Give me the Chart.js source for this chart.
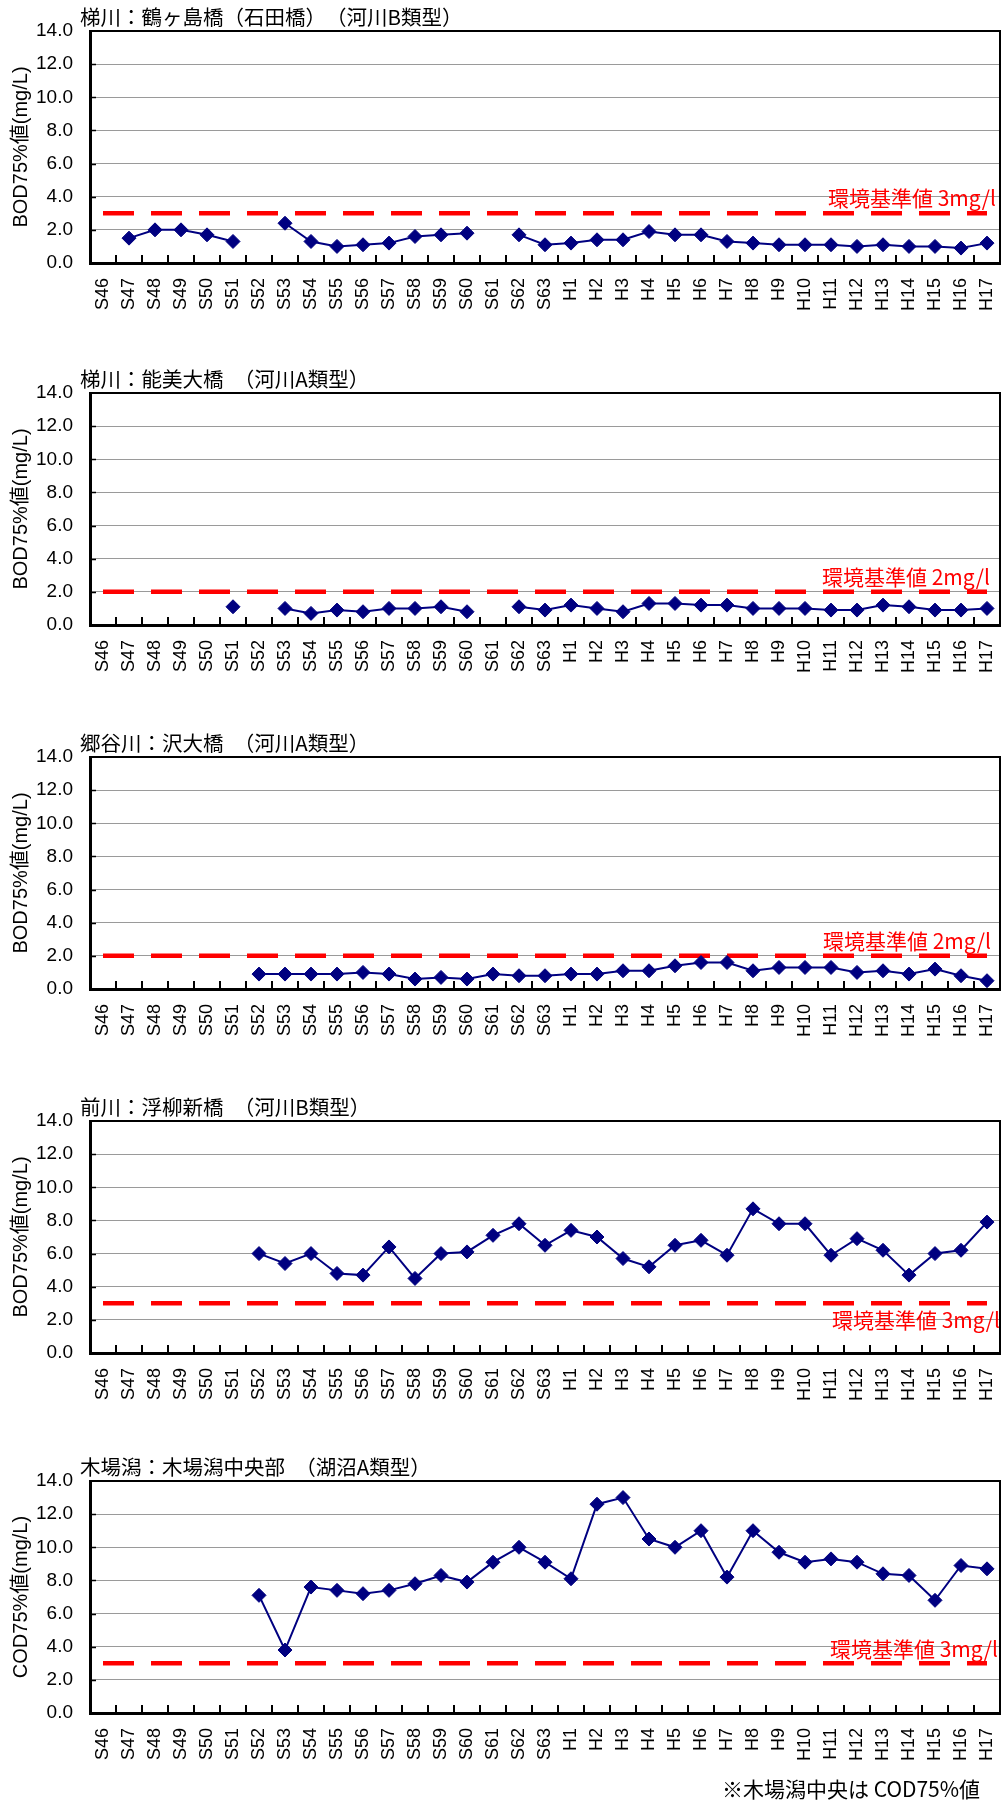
<!DOCTYPE html>
<html lang="ja">
<head>
<meta charset="utf-8">
<title>BOD・COD 75%値の経年変化</title>
<script src="https://cdn.jsdelivr.net/npm/chart.js@4.4.0/dist/chart.umd.min.js"></script>
<style>
  body { margin: 0; background: #fff; }
  #wrap { position: relative; width: 1008px; height: 1800px; }
  #wrap canvas { position: absolute; left: 0; }
  .note { position: absolute; left: 722px; top: 1773px; font: 21px "Noto Sans CJK JP"; color: #000; }
</style>
</head>
<body>
<div id="wrap">
  <canvas id="c1" width="1008" height="360" style="top:0px"></canvas>
  <canvas id="c2" width="1008" height="360" style="top:362px"></canvas>
  <canvas id="c3" width="1008" height="360" style="top:726px"></canvas>
  <canvas id="c4" width="1008" height="360" style="top:1090px"></canvas>
  <canvas id="c5" width="1008" height="350" style="top:1450px"></canvas>
  <div class="note">※木場潟中央は COD75%値</div>
</div>
<script>
// 年度 (S46 ～ H17)
const years = [
  'S46','S47','S48','S49','S50','S51','S52','S53','S54','S55','S56','S57','S58','S59','S60','S61','S62','S63',
  'H1','H2','H3','H4','H5','H6','H7','H8','H9','H10','H11','H12','H13','H14','H15','H16','H17'
];

// 梯川:鶴ヶ島橋(石田橋)  BOD75%値
const tsurugashima = [null,1.5,2.0,2.0,1.7,1.3,null,2.4,1.3,1.0,1.1,1.2,1.6,1.7,1.8,null,1.7,1.1,
  1.2,1.4,1.4,1.9,1.7,1.7,1.3,1.2,1.1,1.1,1.1,1.0,1.1,1.0,1.0,0.9,1.2];
// 梯川:能美大橋
const nomiOhashi = [null,null,null,null,null,1.1,null,1.0,0.7,0.9,0.8,1.0,1.0,1.1,0.8,null,1.1,0.9,
  1.2,1.0,0.8,1.3,1.3,1.2,1.2,1.0,1.0,1.0,0.9,0.9,1.2,1.1,0.9,0.9,1.0];
// 郷谷川:沢大橋
const sawaOhashi = [null,null,null,null,null,null,0.9,0.9,0.9,0.9,1.0,0.9,0.6,0.7,0.6,0.9,0.8,0.8,
  0.9,0.9,1.1,1.1,1.4,1.6,1.6,1.1,1.3,1.3,1.3,1.0,1.1,0.9,1.2,0.8,0.5];
// 前川:浮柳新橋
const ukiyanagi = [null,null,null,null,null,null,6.0,5.4,6.0,4.8,4.7,6.4,4.5,6.0,6.1,7.1,7.8,6.5,
  7.4,7.0,5.7,5.2,6.5,6.8,5.9,8.7,7.8,7.8,5.9,6.9,6.2,4.7,6.0,6.2,7.9];
// 木場潟:木場潟中央部  COD75%値
const kibagata = [null,null,null,null,null,null,7.1,3.8,7.6,7.4,7.2,7.4,7.8,8.3,7.9,9.1,10.0,9.1,
  8.1,12.6,13.0,10.5,10.0,11.0,8.2,11.0,9.7,9.1,9.3,9.1,8.4,8.3,6.8,8.9,8.7];

// 環境基準値 (mg/l)
const standards = [3, 2, 2, 3, 3];
const yMin = 0, yMax = 14, yStep = 2;

const panels = [
  { id: 'c1', title: '梯川：鶴ヶ島橋（石田橋）　（河川B類型）', yTitle: 'BOD75%値(mg/L)', values: tsurugashima, std: standards[0], labelX: 828, labelDy: -15 },
  { id: 'c2', title: '梯川：能美大橋　（河川A類型）', yTitle: 'BOD75%値(mg/L)', values: nomiOhashi, std: standards[1], labelX: 822, labelDy: -15 },
  { id: 'c3', title: '郷谷川：沢大橋　（河川A類型）', yTitle: 'BOD75%値(mg/L)', values: sawaOhashi, std: standards[2], labelX: 823, labelDy: -15 },
  { id: 'c4', title: '前川：浮柳新橋　（河川B類型）', yTitle: 'BOD75%値(mg/L)', values: ukiyanagi, std: standards[3], labelX: 832, labelDy: 17 },
  { id: 'c5', title: '木場潟：木場潟中央部　（湖沼A類型）', yTitle: 'COD75%値(mg/L)', values: kibagata, std: standards[4], labelX: 830, labelDy: -14 },
];

const NUM_FONT = '"Liberation Sans", Arial, "Noto Sans CJK JP", sans-serif';
const JP_FONT = '"Noto Sans CJK JP", sans-serif';

// 枠線・内向きの目盛り・タイトル・基準値ラベル
const excelLook = {
  id: 'excelLook',
  afterDatasetsDraw(chart, args, opts) {
    const { ctx, chartArea: a, scales: { x, y } } = chart;
    ctx.save();
    ctx.strokeStyle = '#000';
    ctx.lineWidth = 2;
    ctx.beginPath();
    ctx.moveTo(a.left, a.top);
    ctx.lineTo(a.right, a.top);
    ctx.lineTo(a.right, a.bottom);
    ctx.stroke();

    // x 目盛り（区切り位置、上向き）
    ctx.beginPath();
    for (let i = 0; i < years.length - 1; i++) {
      const px = Math.round((x.getPixelForValue(i) + x.getPixelForValue(i + 1)) / 2);
      ctx.moveTo(px, a.bottom);
      ctx.lineTo(px, a.bottom - 8);
    }
    ctx.stroke();
    // y 目盛り（右向き）
    ctx.lineWidth = 1.5;
    ctx.beginPath();
    for (let v = yMin + yStep; v < yMax; v += yStep) {
      const py = Math.round(y.getPixelForValue(v)) + 0.5;
      ctx.moveTo(a.left, py);
      ctx.lineTo(a.left + 6, py);
    }
    ctx.stroke();

    // 基準値ラベル（プロット領域でクリップ）
    ctx.save();
    ctx.beginPath();
    ctx.rect(a.left, a.top, a.right - a.left, a.bottom - a.top);
    ctx.clip();
    ctx.fillStyle = '#ff0000';
    ctx.font = '21px ' + JP_FONT;
    ctx.textBaseline = 'middle';
    ctx.textAlign = 'left';
    ctx.fillText(opts.label, opts.labelX, y.getPixelForValue(opts.std) + opts.labelDy);
    ctx.restore();

    // タイトル
    ctx.fillStyle = '#000';
    ctx.font = '20.5px ' + JP_FONT;
    ctx.textBaseline = 'middle';
    ctx.textAlign = 'left';
    ctx.fillText(opts.title, 80, 17);
    ctx.restore();
  }
};

panels.forEach(p => {
  const canvas = document.getElementById(p.id);
  const xHeight = canvas.height - 31 - 232;
  new Chart(canvas, {
    type: 'line',
    data: {
      labels: years,
      datasets: [
        {
          data: p.values,
          borderColor: '#000080',
          backgroundColor: '#000080',
          borderWidth: 2,
          pointStyle: 'rectRot',
          pointRadius: 7,
          pointBorderWidth: 1,
          spanGaps: false,
          tension: 0
        },
        {
          // 環境基準値の破線（S46 から H17 まで）
          data: [{ x: years[0], y: p.std }, { x: years[years.length - 1], y: p.std }],
          borderColor: '#ff0000',
          borderWidth: 4.5,
          borderDash: [31, 17],
          borderCapStyle: 'butt',
          pointRadius: 0,
          fill: false
        }
      ]
    },
    options: {
      responsive: false,
      animation: false,
      layout: { padding: { top: 31, right: 4, left: 0, bottom: 0 } },
      plugins: {
        legend: { display: false },
        tooltip: { enabled: false },
        excelLook: {
          title: p.title,
          label: '環境基準値 ' + p.std + 'mg/l',
          std: p.std,
          labelX: p.labelX,
          labelDy: p.labelDy
        }
      },
      scales: {
        x: {
          type: 'category',
          offset: true,
          grid: { display: false, drawTicks: false },
          border: { display: true, color: '#000', width: 3 },
          ticks: {
            autoSkip: false,
            minRotation: 90,
            maxRotation: 90,
            padding: 15,
            color: '#000',
            font: { family: NUM_FONT, size: 18 }
          },
          afterFit: s => {
            s.height = xHeight;
            s.paddingLeft = 0;
            s.paddingRight = 0;
          }
        },
        y: {
          min: yMin,
          max: yMax,
          grid: { color: '#9a9a9a', lineWidth: 1, drawTicks: false },
          border: { display: true, color: '#000', width: 3 },
          ticks: {
            stepSize: yStep,
            padding: 17,
            color: '#000',
            font: { family: NUM_FONT, size: 19 },
            callback: v => v.toFixed(1)
          },
          title: {
            display: true,
            text: p.yTitle,
            color: '#000',
            padding: { top: 9, bottom: 0 },
            font: { family: NUM_FONT, size: 20 }
          },
          afterFit: s => { s.width = 90; }
        }
      }
    },
    plugins: [excelLook]
  });
});
</script>
</body>
</html>
